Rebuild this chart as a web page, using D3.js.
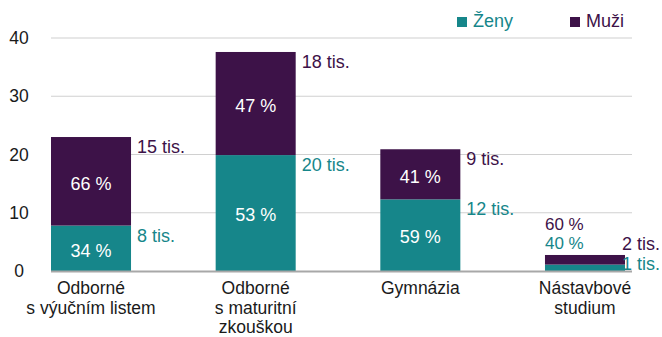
<!DOCTYPE html>
<html>
<head>
<meta charset="utf-8">
<script src="https://cdn.jsdelivr.net/npm/d3@7"></script>
<style>
  html, body { margin: 0; padding: 0; background: #fff; }
  svg { display: block; font-family: "Liberation Sans", Arial, Helvetica, sans-serif; }
</style>
</head>
<body>
<svg id="chart" width="662" height="337"></svg>
<script>
// Absolventi podle typu vzdělání (tis.), rozdělení na ženy a muže
const categories = [
  ["Odborné", "s výučním listem"],
  ["Odborné", "s maturitní", "zkouškou"],
  ["Gymnázia"],
  ["Nástavbové", "studium"]
];
const zeny = [7.8, 19.9, 12.3, 1.1];
const muzi = [15.2, 17.7, 8.6, 1.65];
const yTicks = [0, 10, 20, 30, 40];
const seriesNames = ["Ženy", "Muži"];

const colors = { zeny: "#16868a", muzi: "#3d1248" };

const W = 662, H = 337;
const plot = { left: 51, right: 632, top: 38, bottom: 271 };

const svg = d3.select("#chart");
const keys = categories.map((c, i) => "c" + i);

const y = d3.scaleLinear().domain([0, 40]).range([plot.bottom, plot.top]);
const x = d3.scaleBand().domain(keys).range([51, 625]).paddingInner(0.514).paddingOuter(0);

// Gridlines
svg.append("g").selectAll("line").data(yTicks.filter(d => d > 0)).join("line")
  .attr("x1", plot.left).attr("x2", plot.right)
  .attr("y1", d => y(d)).attr("y2", d => y(d))
  .attr("stroke", "#d0d0d0").attr("stroke-width", 1.2);

// Y axis labels
const yAxis = d3.axisLeft(y).tickValues(yTicks).tickSize(0).tickPadding(0);
const yg = svg.append("g").attr("transform", "translate(19,0)").call(yAxis);
yg.select(".domain").remove();
yg.selectAll("text")
  .attr("text-anchor", "middle")
  .attr("x", 0)
  .attr("font-size", 17.5)
  .attr("fill", "#1a1a1a")
  .style("font-family", "Liberation Sans, Arial, sans-serif");

// Stacked bars
const data = keys.map((k, i) => ({ key: k, zeny: zeny[i], muzi: muzi[i] }));
const stack = d3.stack().keys(["zeny", "muzi"]);
const series = stack(data);

svg.append("g").selectAll("g").data(series).join("g")
  .attr("fill", s => colors[s.key])
  .selectAll("rect").data(s => s).join("rect")
  .attr("x", d => x(d.data.key))
  .attr("width", x.bandwidth())
  .attr("y", d => y(d[1]))
  .attr("height", d => y(d[0]) - y(d[1]));

// Baseline
svg.append("line")
  .attr("x1", plot.left).attr("x2", plot.right)
  .attr("y1", y(0) + 0.5).attr("y2", y(0) + 0.5)
  .attr("stroke", "#a8a8a8").attr("stroke-width", 1.8);

const fmtPct = v => Math.round(v) + " %";
const fmtTis = v => Math.round(v) + " tis.";

// Labels
const labels = svg.append("g").attr("font-size", 18);
data.forEach((d, i) => {
  const total = d.zeny + d.muzi;
  const pz = d.zeny / total * 100, pm = d.muzi / total * 100;
  const x0 = x(d.key), bw = x.bandwidth();
  const small = y(0) - y(total) < 40;
  const last = i === data.length - 1;

  if (!small) {
    labels.append("text")
      .attr("x", x0 + bw / 2).attr("y", (y(0) + y(d.zeny)) / 2 + 2)
      .attr("dy", "0.35em").attr("text-anchor", "middle")
      .attr("fill", "#fff").text(fmtPct(pz));
    labels.append("text")
      .attr("x", x0 + bw / 2).attr("y", (y(d.zeny) + y(total)) / 2 + 2)
      .attr("dy", "0.35em").attr("text-anchor", "middle")
      .attr("fill", "#fff").text(fmtPct(pm));
  } else {
    // too thin for inner labels: stack the shares above the bar
    labels.append("text")
      .attr("x", x0).attr("y", y(total) - 25)
      .attr("font-size", 17)
      .attr("fill", colors.muzi).text(fmtPct(pm));
    labels.append("text")
      .attr("x", x0).attr("y", y(total) - 6)
      .attr("font-size", 17)
      .attr("fill", colors.zeny).text(fmtPct(pz));
  }

  if (!last) {
    labels.append("text")
      .attr("x", x0 + bw + 6).attr("y", y(total) + 16)
      .attr("fill", colors.muzi).text(fmtTis(d.muzi));
    labels.append("text")
      .attr("x", x0 + bw + 6).attr("y", y(d.zeny) + 16)
      .attr("fill", colors.zeny).text(fmtTis(d.zeny));
  } else {
    labels.append("text")
      .attr("x", W - 2).attr("y", y(total) - 5).attr("text-anchor", "end")
      .attr("fill", colors.muzi).text(fmtTis(d.muzi));
    labels.append("text")
      .attr("x", W - 2).attr("y", y(0) - 1).attr("text-anchor", "end")
      .attr("fill", colors.zeny).text(fmtTis(d.zeny));
  }
});

// Category labels
const cat = svg.append("g").attr("font-size", 17.5).attr("fill", "#1a1a1a").attr("text-anchor", "middle");
categories.forEach((lines, i) => {
  const t = cat.append("text").attr("x", x(keys[i]) + x.bandwidth() / 2);
  lines.forEach((ln, j) => {
    t.append("tspan").attr("x", x(keys[i]) + x.bandwidth() / 2)
      .attr("y", 294 + j * 19.5).text(ln);
  });
});

// Legend
const legend = svg.append("g").attr("font-size", 18);
const legendItems = [
  { name: seriesNames[0], color: colors.zeny, x: 457 },
  { name: seriesNames[1], color: colors.muzi, x: 570 }
];
legendItems.forEach(it => {
  legend.append("rect").attr("x", it.x).attr("y", 17).attr("width", 10).attr("height", 10).attr("fill", it.color);
  legend.append("text").attr("x", it.x + 16).attr("y", 27).attr("fill", it.color).text(it.name);
});
</script>
</body>
</html>
